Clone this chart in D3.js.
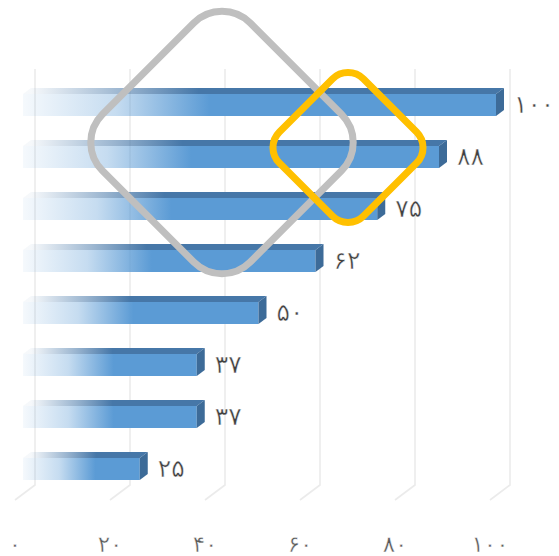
<!DOCTYPE html>
<html><head><meta charset="utf-8">
<script src="https://cdn.jsdelivr.net/npm/d3@7"></script>
<style>body{margin:0;background:#fff}svg{display:block}</style>
</head><body>
<svg id="c" width="559" height="556"></svg>
<script>
const categories = ["1","2","3","4","5","6","7","8"];
const values = [100, 88, 75, 62, 50, 37, 37, 25];
const tickValues = [0, 20, 40, 60, 80, 100];
const tickLabels = ["۰","۲۰","۴۰","۶۰","۸۰","۱۰۰"];
const valueLabels = ["۱۰۰","۸۸","۷۵","۶۲","۵۰","۳۷","۳۷","۲۵"];

const svg = d3.select("#c");
const x = d3.scaleLinear().domain([0,100]).range([21, 496]);
const xBack = d3.scaleLinear().domain([0,100]).range([35, 510]);
const xFloor = d3.scaleLinear().domain([0,100]).range([15, 490]);
const y = d3.scaleBand().domain(categories).range([79, 495]).paddingInner(30/52).paddingOuter(15/52);
const dx = 8, dy = 6;
const blue = "#5b9bd5", topC = "#4677a8", sideC = "#3d6b98";
const FONT = "'DejaVu Sans', sans-serif";

const grid = svg.append("g");
tickValues.forEach(v => {
  grid.append("path")
    .attr("d", `M${xBack(v)},69 L${xBack(v)},485 L${xFloor(v)},500`)
    .attr("fill","none").attr("stroke","#ebebeb").attr("stroke-width",1.6);
});

const defs = svg.append("defs");
const bars = svg.append("g");
values.forEach((v,i) => {
  const x0 = 23, x1 = x(v), y0 = y(categories[i]), h = y.bandwidth();
  const w = x1 - x0;
  const fade = Math.min(1, (35 + 0.32*w)/w);
  const gF = defs.append("linearGradient").attr("id","gf"+i)
    .attr("gradientUnits","userSpaceOnUse").attr("x1",x0).attr("x2",x1).attr("y1",0).attr("y2",0);
  gF.append("stop").attr("offset",0).attr("stop-color",blue).attr("stop-opacity",0.06);
  gF.append("stop").attr("offset",fade*0.5).attr("stop-color",blue).attr("stop-opacity",0.35);
  gF.append("stop").attr("offset",fade).attr("stop-color",blue).attr("stop-opacity",1);
  gF.append("stop").attr("offset",1).attr("stop-color",blue).attr("stop-opacity",1);
  const gT = defs.append("linearGradient").attr("id","gt"+i)
    .attr("gradientUnits","userSpaceOnUse").attr("x1",x0+dx).attr("x2",x1+dx).attr("y1",0).attr("y2",0);
  gT.append("stop").attr("offset",0).attr("stop-color",topC).attr("stop-opacity",0.05);
  gT.append("stop").attr("offset",fade*0.5).attr("stop-color",topC).attr("stop-opacity",0.55);
  gT.append("stop").attr("offset",fade*0.9).attr("stop-color",topC).attr("stop-opacity",1);
  gT.append("stop").attr("offset",1).attr("stop-color",topC).attr("stop-opacity",1);

  bars.append("path")
    .attr("d", `M${x0},${y0} L${x0+dx},${y0-dy} L${x1+dx},${y0-dy} L${x1},${y0} Z`)
    .attr("fill",`url(#gt${i})`);
  bars.append("rect").attr("x",x0).attr("y",y0).attr("width",w).attr("height",h)
    .attr("fill",`url(#gf${i})`);
  bars.append("path")
    .attr("d", `M${x1},${y0} L${x1+dx},${y0-dy} L${x1+dx},${y0+h-dy} L${x1},${y0+h} Z`)
    .attr("fill",sideC);
  svg.append("text").attr("x", x1 + dx + 10).attr("y", y0 + h/2 + 1)
    .attr("dominant-baseline","middle")
    .attr("font-family",FONT).attr("font-size",25)
    .attr("fill","#404040").attr("stroke","#fff").attr("stroke-width",0.45)
    .text(valueLabels[i]);
});

tickValues.forEach((v,i) => {
  svg.append("text").attr("x", xFloor(v)).attr("y", 545)
    .attr("text-anchor","middle").attr("dominant-baseline","middle")
    .attr("font-family",FONT).attr("font-size",23)
    .attr("fill","#595959").attr("stroke","#fff").attr("stroke-width",0.45)
    .text(tickLabels[i]);
});

function diamond(cx, cy, s, r, color, sw){
  svg.append("rect").attr("x",-s/2).attr("y",-s/2).attr("width",s).attr("height",s)
    .attr("rx",r).attr("ry",r)
    .attr("transform",`translate(${cx},${cy}) rotate(45)`)
    .attr("fill","none").attr("stroke",color).attr("stroke-width",sw);
}
diamond(222, 142.5, 209, 40, "#bfbfbf", 7);
diamond(348, 147.5, 119, 22, "#ffc000", 7);
</script>
</body></html>
